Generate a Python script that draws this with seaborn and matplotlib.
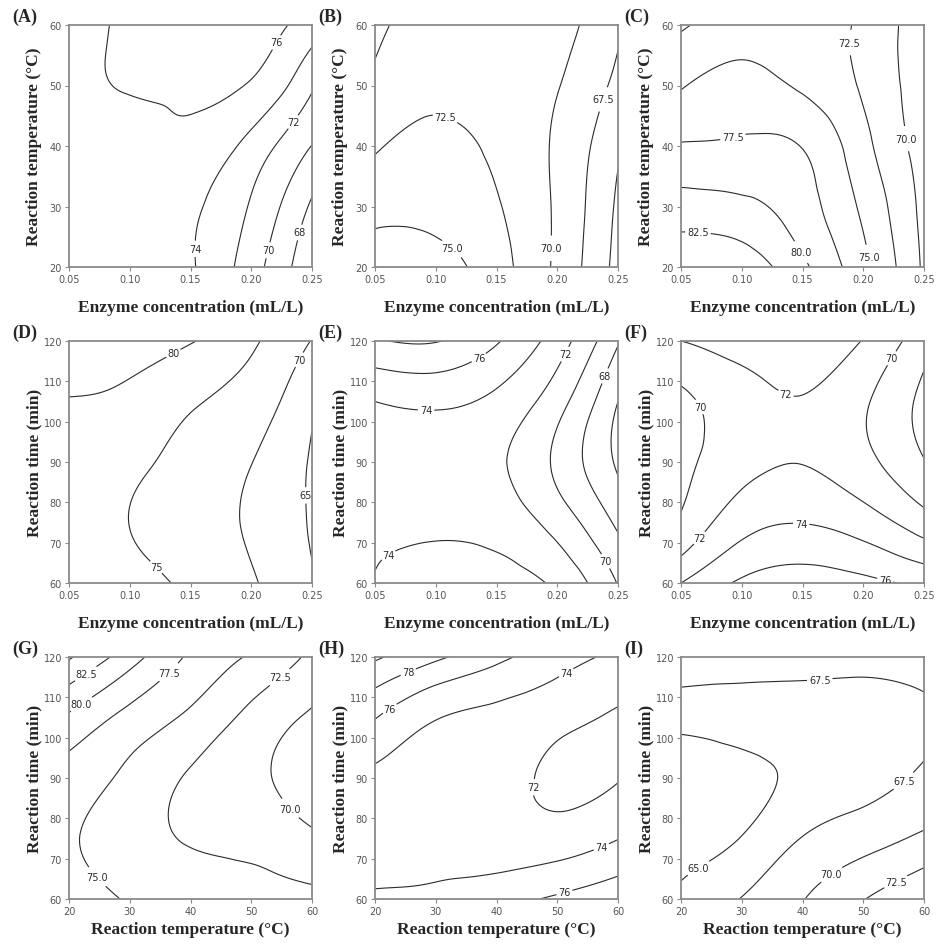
import matplotlib
matplotlib.use("Agg")
import matplotlib.pyplot as plt
from matplotlib.tri import Triangulation, UniformTriRefiner
import seaborn as sns
import numpy as np

sns.set_style("ticks")

# grid of factor levels (x across, y up)
enzyme = [0.05, 0.10, 0.15, 0.20, 0.25]
temperature = [20, 30, 40, 50, 60]
reaction_time = [60, 75, 90, 105, 120]

# estimated responses, one row per y level (bottom -> top)
z_a = [[75.7, 75.5, 74.2, 70.9, 66.5],
       [75.6, 75.5, 74.4, 71.8, 67.7],
       [75.6, 75.5, 75.5, 73.3, 69.95],
       [75.5, 76.1, 76.3, 75.8, 72.3],
       [75.6, 76.2, 76.8, 76.9, 75.0]]
z_b = [[76.2, 76.1, 73.5, 69.5, 64.2],
       [74.3, 74.2, 72.7, 69.6, 64.6],
       [72.2, 73.2, 72.0, 69.6, 65.4],
       [70.5, 71.8, 71.2, 70.1, 66.8],
       [69.5, 71.0, 70.8, 70.6, 67.9]]
z_c = [[84.4, 84.0, 80.5, 75.7, 69.6],
       [81.1, 80.6, 78.6, 74.5, 69.3],
       [77.7, 77.9, 77.4, 73.3, 68.9],
       [74.8, 75.9, 74.6, 72.2, 68.4],
       [72.2, 73.6, 73.3, 72.1, 67.9]]
z_d = [[77.0, 76.8, 74.0, 70.5, 65.4],
       [77.0, 74.95, 72.2, 69.4, 64.5],
       [77.5, 76.2, 73.2, 70.1, 64.5],
       [79.8, 78.8, 75.6, 72.6, 66.0],
       [82.6, 82.0, 80.3, 75.8, 69.8]]
z_e = [[74.1, 75.2, 74.8, 73.6, 69.9],
       [73.4, 73.5, 73.2, 71.2, 67.6],
       [72.6, 72.8, 72.3, 69.6, 65.7],
       [74.0, 74.4, 73.5, 70.8, 66.0],
       [77.85, 78.1, 76.2, 73.0, 68.2]]
z_f = [[74.0, 76.3, 77.0, 76.5, 75.6],
       [70.3, 73.2, 73.95, 73.0, 70.9],
       [69.5, 71.3, 71.95, 70.6, 68.1],
       [69.6, 71.1, 71.9, 70.3, 67.5],
       [72.0, 73.0, 73.3, 71.9, 68.8]]
z_g = [[76.0, 74.8, 73.8, 73.3, 73.1],
       [75.25, 73.7, 72.3, 71.8, 70.5],
       [76.4, 74.4, 72.2, 70.6, 68.5],
       [79.6, 76.7, 74.5, 71.8, 69.6],
       [85.3, 81.1, 77.1, 74.7, 72.0]]
z_h = [[74.3, 74.6, 75.3, 76.3, 77.4],
       [73.2, 73.1, 72.9, 72.9, 73.95],
       [73.6, 73.2, 72.8, 71.6, 71.9],
       [76.1, 74.1, 73.5, 72.6, 71.8],
       [80.3, 78.4, 76.5, 74.9, 73.6]]
z_i = [[65.4, 67.6, 69.9, 72.4, 74.9],
       [63.9, 65.1, 67.6, 69.0, 70.5],
       [63.4, 64.3, 65.5, 66.6, 67.9],
       [65.9, 66.2, 66.4, 66.6, 67.2],
       [69.0, 68.3, 68.1, 68.0, 68.2]]

levels_a = [68, 70, 72, 74, 76]
levels_b = [65, 67.5, 70, 72.5, 75]
levels_c = [70, 72.5, 75, 77.5, 80, 82.5]
levels_d = [65, 70, 75, 80]
levels_e = [66, 68, 70, 72, 74, 76, 78]
levels_f = [68, 70, 72, 74, 76]
levels_g = [70, 72.5, 75, 77.5, 80, 82.5, 85]
levels_h = [72, 74, 76, 78, 80]
levels_i = [65, 67.5, 70, 72.5, 75]

enz_label = "Enzyme concentration (mL/L)"
temp_label = "Reaction temperature (\u00b0C)"
time_label = "Reaction time (min)"

# where the inline labels sit
lab_a = [(0.220, 57.2), (0.235, 43.9), (0.155, 23.0), (0.213, 22.8), (0.238, 25.8)]
lab_b = [(0.109, 45.4), (0.114, 23.2), (0.195, 23.1), (0.235, 47.9)]
lab_c = [(0.189, 57.1), (0.092, 42.0), (0.235, 41.2), (0.064, 25.9), (0.150, 22.6), (0.207, 21.7)]
lab_d = [(0.138, 115.8), (0.238, 115.6), (0.239, 81.7), (0.121, 63.7)]
lab_e = [(0.136, 115.6), (0.208, 116.5), (0.238, 111.5), (0.092, 101.2), (0.066, 64.5), (0.237, 64.9)]
lab_f = [(0.134, 105.3), (0.060, 102.9), (0.223, 115.8), (0.064, 71.5), (0.149, 75.2), (0.219, 62.0)]
lab_g = [(22.3, 116.9), (21.7, 109.1), (36.5, 116.1), (54.3, 115.7), (55.7, 81.5), (23.9, 64.5)]
lab_h = [(25.7, 115.4), (23.0, 105.9), (51.4, 116.3), (48.4, 87.5), (57.2, 73.2), (51.1, 62.1)]
lab_i = [(42.8, 115.3), (22.8, 67.8), (56.4, 89.7), (45.5, 64.5), (55.4, 64.1)]

panels = [
    ("(A)", enzyme, temperature, z_a, levels_a, "%d", enz_label, temp_label, lab_a),
    ("(B)", enzyme, temperature, z_b, levels_b, "%.1f", enz_label, temp_label, lab_b),
    ("(C)", enzyme, temperature, z_c, levels_c, "%.1f", enz_label, temp_label, lab_c),
    ("(D)", enzyme, reaction_time, z_d, levels_d, "%d", enz_label, time_label, lab_d),
    ("(E)", enzyme, reaction_time, z_e, levels_e, "%d", enz_label, time_label, lab_e),
    ("(F)", enzyme, reaction_time, z_f, levels_f, "%d", enz_label, time_label, lab_f),
    ("(G)", temperature, reaction_time, z_g, levels_g, "%.1f", temp_label, time_label, lab_g),
    ("(H)", temperature, reaction_time, z_h, levels_h, "%d", temp_label, time_label, lab_h),
    ("(I)", temperature, reaction_time, z_i, levels_i, "%.1f", temp_label, time_label, lab_i),
]


def grid_triangulation(xs, ys):
    # split every grid cell into two triangles
    X, Y = np.meshgrid(xs, ys)
    nx = len(xs)
    tris = []
    for j in range(len(ys) - 1):
        for i in range(nx - 1):
            p = j * nx + i
            tris.append([p, p + 1, p + nx + 1])
            tris.append([p, p + nx + 1, p + nx])
    return Triangulation(X.ravel(), Y.ravel(), tris)


W, H = 946, 953
fig = plt.figure(figsize=(W / 100, H / 100), dpi=100)
fig.patch.set_facecolor("white")

col_left = [69, 375, 681]
row_top = [26, 342, 658]
aw, ah = 243, 242
serif = "Liberation Serif"
line_col = "#2b2b2b"

for k, (tag, xs, ys, z, lv, fmt, xl, yl, labpos) in enumerate(panels):
    r, c = divmod(k, 3)
    l, t = col_left[c], row_top[r]
    ax = fig.add_axes([l / W, 1 - (t + ah) / H, aw / W, ah / H])

    tri = grid_triangulation(xs, ys)
    fine_tri, fine_z = UniformTriRefiner(tri).refine_field(np.ravel(z), subdiv=4)
    cs = ax.tricontour(fine_tri, fine_z, levels=lv, colors=line_col, linewidths=0.8)
    texts = ax.clabel(cs, fmt=fmt, fontsize=7, inline=True, inline_spacing=2,
                      manual=labpos, colors=line_col)
    for tx in texts:
        tx.set_rotation(0)

    ax.set_xlim(xs[0], xs[-1])
    ax.set_ylim(ys[0], ys[-1])
    if xs is enzyme:
        ax.set_xticks(enzyme)
        ax.set_xticklabels(["%.2f" % v for v in enzyme])
    else:
        ax.set_xticks(temperature)
    if ys is temperature:
        ax.set_yticks(temperature)
    else:
        ax.set_yticks(range(60, 121, 10))

    ax.tick_params(length=3, width=0.8, color="#8a8a8a", labelsize=7,
                   labelcolor="#555555", pad=2)
    for sp in ax.spines.values():
        sp.set_color("#8a8a8a")
        sp.set_linewidth(1.3)
        sp.set_visible(True)

    ax.set_xlabel(xl, fontsize=12.5, family=serif, weight="bold")
    ax.set_ylabel(yl, fontsize=12.5, family=serif, weight="bold")
    xoff = 22 if r == 2 else 32
    ax.xaxis.set_label_coords(0.5, -xoff / ah)
    ax.yaxis.set_label_coords(-27 / aw, 0.5)

    fig.text((l - 57) / W, 1 - (t - 9) / H, tag, fontsize=13, family=serif,
             weight="bold", ha="left", va="center")

fig.savefig("out.png", dpi=100, facecolor="white")
